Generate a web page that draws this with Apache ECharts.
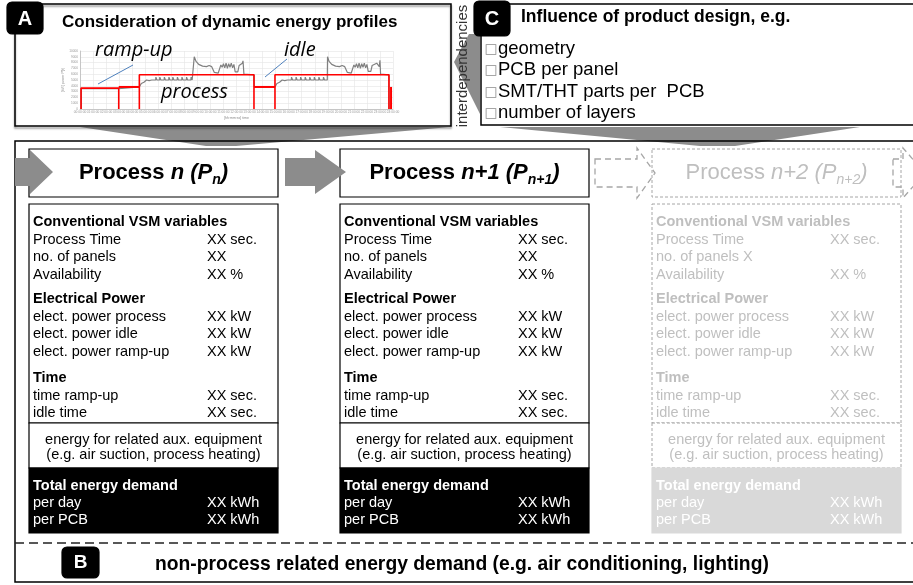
<!DOCTYPE html>
<html>
<head>
<meta charset="utf-8">
<script src="https://cdn.jsdelivr.net/npm/echarts@6/dist/echarts.min.js"></script>
<style>
html,body{margin:0;padding:0;background:#fff}
#main{width:913px;height:585px}
</style>
</head>
<body>
<div id="main"></div>
<script>
// energy profile (x: hours, y: power) in box A
const profile = [
  [0.1,0],[0.1,3.5],[1.5,3.5],[2.97,3.5],[3.0,3.8],[4.55,3.8],
  [4.7,4.4],[4.9,4.6],[5.1,5.0],[5.3,4.9],[5.5,5.0],
  [5.8,5.0],[5.82,5.5],[5.9,5.0],[6.1,5.0],[6.12,5.5],[6.2,5.0],[6.45,5.0],[6.47,5.5],[6.55,5.0],
  [6.8,5.0],[6.82,5.5],[6.9,5.0],[7.1,5.0],[7.12,5.5],[7.2,5.0],[7.45,5.0],[7.47,5.5],[7.55,5.0],
  [7.8,5.0],[7.82,5.5],[7.9,5.0],[8.15,5.0],[8.17,5.5],[8.25,5.0],[8.5,5.0],[8.52,5.5],[8.6,5.0],[8.74,5.0],
  [8.76,9.0],[8.9,8.2],[9.1,7.7],[9.4,7.4],[9.7,7.3],[9.9,7.5],[10.1,7.3],[10.25,7.4],[10.3,6.3],[10.6,6.2],[10.75,6.3],
  [10.8,7.6],[10.9,7.2],[11.0,7.8],[11.1,7.1],[11.2,7.9],[11.3,7.0],[11.4,7.8],[11.5,7.2],[11.6,7.9],[11.7,7.1],[11.8,7.7],
  [11.9,6.4],[12.1,6.4],[12.2,7.5],[12.3,7.2],[12.45,7.9],[12.5,8.3],[12.57,6.0],[13.34,5.9],[13.36,3.8],[14.95,3.8],
  [15.1,4.4],[15.3,4.6],[15.5,5.0],[15.7,4.9],[15.9,5.0],
  [16.2,5.0],[16.22,5.5],[16.3,5.0],[16.55,5.0],[16.57,5.5],[16.65,5.0],[16.9,5.0],[16.92,5.5],[17.0,5.0],
  [17.25,5.0],[17.27,5.5],[17.35,5.0],[17.6,5.0],[17.62,5.5],[17.7,5.0],[17.95,5.0],[17.97,5.5],[18.05,5.0],
  [18.3,5.0],[18.32,5.5],[18.4,5.0],[18.65,5.0],[18.67,5.5],[18.75,5.0],[18.96,5.0],
  [18.98,9.0],[19.1,8.2],[19.3,7.7],[19.6,7.4],[19.9,7.3],[20.1,7.5],[20.3,7.3],[20.45,7.4],[20.5,6.3],[20.8,6.2],[20.95,6.3],
  [21.0,7.6],[21.1,7.2],[21.2,7.8],[21.3,7.1],[21.4,7.9],[21.5,7.0],[21.6,7.8],[21.7,7.2],[21.8,7.9],[21.9,7.1],[22.0,7.7],
  [22.1,6.5],[22.3,6.5],[22.4,7.5],[22.55,7.2],[22.75,7.9],[22.95,7.3],[23.0,8.4],[23.05,6.0],[23.69,5.9],[23.7,0]
];
// red phase outlines
const rampBox1 = [[0.08,0],[0.08,3.6],[2.97,3.6],[2.97,0]];
const rampStep = [[2.97,3.8],[4.55,3.8]];
const processBox1 = [[4.55,0],[4.55,5.9],[13.34,5.9],[13.34,0]];
const idleStep = [[13.34,3.8],[14.95,3.8]];
const processBox2 = [[14.95,0],[14.95,5.9],[23.69,5.9],[23.69,0]];
const endStep = [[23.85,0],[23.85,3.8]];

const designItems = ['geometry', 'PCB per panel', 'SMT/THT parts per  PCB', 'number of layers'];
const processIndex = ['n', 'n+1', 'n+2'];
const vsmRows = [['Process Time','XX sec.'],['no. of panels','XX'],['Availability','XX %']];
const powerRows = [['elect. power process','XX kW'],['elect. power idle','XX kW'],['elect. power ramp-up','XX kW']];
const timeRows = [['time ramp-up','XX sec.'],['idle time','XX sec.']];
const ghostPanelsRow = ['no. of panels X',''];
const sectionTitles = ['Conventional VSM variables','Electrical Power','Time'];
const auxLines = ['energy for related aux. equipment','(e.g. air suction, process heating)'];
const totalTitle = 'Total energy demand';
const totalRows = [['per day','XX kWh'],['per PCB','XX kWh']];

const FONT = '"Liberation Sans", Arial, sans-serif';
const g = [];

function txt(x, y, text, st, z) {
  g.push({type:'text', x:x, y:y, z:z || 20, silent:true, style:Object.assign({
    text:text, fill:'#000', fontSize:14.5, fontFamily:FONT,
    align:'left', textAlign:'left', verticalAlign:'middle', textVerticalAlign:'middle'
  }, st || {})});
}
function box(x, y, w, h, st, z, r) {
  g.push({type:'rect', z:z || 5, silent:true, shape:{x:x, y:y, width:w, height:h, r:r || 0},
    style:Object.assign({fill:'#fff', stroke:'#000', lineWidth:1.2}, st || {})});
}
function poly(points, st, z) {
  g.push({type:'polygon', z:z || 6, silent:true, shape:{points:points},
    style:Object.assign({fill:'#8c8c8c'}, st || {})});
}
function seg(x1, y1, x2, y2, st, z) {
  g.push({type:'line', z:z || 8, silent:true, shape:{x1:x1, y1:y1, x2:x2, y2:y2},
    style:Object.assign({stroke:'#000', lineWidth:1}, st || {})});
}
function arrow(x0, xb, xt, yc, bh, hh) {
  return [[x0,yc-bh],[xb,yc-bh],[xb,yc-hh],[xt,yc],[xb,yc+hh],[xb,yc+bh],[x0,yc+bh]];
}

// wedges pointing down into the process area
poly([[80,127],[450,127],[236,146],[206,146]], {fill:'#8c8c8c'}, 1);
poly([[500,127],[860,127],[735,146],[700,146]], {fill:'#8c8c8c'}, 1);

// box A
box(15, 4, 436, 122, {fill:'none', lineWidth:1.5, shadowBlur:2, shadowOffsetY:2, shadowColor:'rgba(0,0,0,0.45)'}, 0);
box(7, 2, 36, 32, {fill:'#000', stroke:'#000'}, 10, 5);
txt(25, 19, 'A', {fill:'#fff', fontSize:20, fontWeight:'bold', align:'center', textAlign:'center'});
txt(62, 22, 'Consideration of dynamic energy profiles', {fontSize:17, fontWeight:'bold'});
const ann = {fontSize:20, fontStyle:'italic', fontFamily:'"Open Sans", "Liberation Sans", sans-serif'};
txt(95, 50, 'ramp-up', ann, 100);
txt(284, 50, 'idle', ann, 100);
txt(161, 92, 'process', ann, 100);
seg(98, 84, 133, 65, {stroke:'#4f81bd', lineWidth:1}, 100);
seg(265, 77, 287, 59, {stroke:'#4f81bd', lineWidth:1}, 100);

// interdependencies arrow
poly([[454,62],[469,34],[480,34],[480,114]], {fill:'#8c8c8c'}, 2);
g.push({type:'text', x:463, y:66, rotation:Math.PI/2, z:20, silent:true, style:{
  text:'interdependencies', fill:'#333', fontSize:15, fontFamily:FONT,
  align:'center', textAlign:'center', verticalAlign:'middle', textVerticalAlign:'middle'}});

// box C
box(481, 4, 440, 121, {lineWidth:1.5}, 3);
box(474, 1, 36, 35, {fill:'#000', stroke:'#000'}, 10, 5);
txt(492, 19, 'C', {fill:'#fff', fontSize:20, fontWeight:'bold', align:'center', textAlign:'center'});
txt(521, 17, 'Influence of product design, e.g.', {fontSize:17.5, fontWeight:'bold'});
designItems.forEach(function (item, i) {
  const y = 49 + i * 21.3;
  txt(484.5, y + 0.5, '\u25A1', {fontSize:13.5, fill:'#8c8c8c', fontFamily:'"DejaVu Sans", sans-serif'});
  txt(498, y, item, {fontSize:18.5});
});

// main frame
box(15, 141, 905, 441, {fill:'none', lineWidth:1.5}, 7);
seg(15, 543, 913, 543, {stroke:'#222', lineWidth:1.5, lineDash:[9,5]}, 8);
box(62, 547, 37, 31, {fill:'#000', stroke:'#000'}, 10, 5);
txt(80.5, 563, 'B', {fill:'#fff', fontSize:19, fontWeight:'bold', align:'center', textAlign:'center'});
txt(155, 565, 'non-process related energy demand (e.g. air conditioning, lighting)', {fontSize:19.3, fontWeight:'bold'});

// process columns
const colLeft = [29, 340, 652];
const colW = 249;
processIndex.forEach(function (idx, c) {
  const L = colLeft[c];
  const ghost = c === 2;
  const ink = ghost ? '#bfbfbf' : '#000';
  const edge = ghost ? {stroke:'#a6a6a6', lineWidth:1, lineDash:[3,2]} : {};
  const fw = ghost ? 'normal' : 'bold';
  box(L, 149, colW, 48, edge, 5);
  box(L, 204, colW, 219, edge, 5);
  box(L, 423, colW, 45, edge, 5);
  box(L, 468, colW, 65, {fill: ghost ? '#d9d9d9' : '#000', stroke: ghost ? '#d9d9d9' : '#000'}, 5);

  const base = {fill:ink, fontFamily:FONT, fontWeight:fw, fontSize:22, lineHeight:28, verticalAlign:'middle'};
  g.push({type:'text', x:L + colW / 2, y:173, z:20, silent:true, style:{
    text:'{m|Process }{i|' + idx + '}{m| }{i|(P}{s|' + idx + '}{i|)}',
    align:'center', textAlign:'center', verticalAlign:'middle', textVerticalAlign:'middle',
    rich:{
      m:Object.assign({}, base),
      i:Object.assign({}, base, {fontStyle:'italic'}),
      s:Object.assign({}, base, {fontStyle:'italic', fontSize:14, lineHeight:16, verticalAlign:'bottom'})
    }}});

  const tx = L + 4, vx = L + 178;
  const sections = [vsmRows, powerRows, timeRows];
  const starts = [222, 299, 378];
  sections.forEach(function (rows, s) {
    txt(tx, starts[s], sectionTitles[s], {fill:ink, fontWeight:'bold'});
    rows.forEach(function (row, r) {
      const rr = (ghost && s === 0 && r === 1) ? ghostPanelsRow : row;
      const y = starts[s] + 17.5 * (r + 1);
      txt(tx, y, rr[0], {fill:ink});
      if (rr[1]) txt(vx, y, rr[1], {fill:ink});
    });
  });
  auxLines.forEach(function (line, k) {
    txt(L + colW / 2, 440 + k * 15, line, {fill:ink, align:'center', textAlign:'center'});
  });
  const totInk = '#fff';
  txt(tx, 486, totalTitle, {fill:totInk, fontWeight:'bold'});
  totalRows.forEach(function (row, r) {
    txt(tx, 503 + r * 16.5, row[0], {fill:totInk});
    txt(vx, 503 + r * 16.5, row[1], {fill:totInk});
  });
});

// flow arrows
poly(arrow(15, 30, 53, 172, 14, 22), {fill:'#8c8c8c'}, 9);
poly(arrow(285, 315, 346, 172, 14, 22), {fill:'#8c8c8c'}, 9);
poly(arrow(595, 637, 655, 173, 14, 25), {fill:'none', stroke:'#a6a6a6', lineWidth:1.3, lineDash:[6,4]}, 9);
poly(arrow(893, 903, 925, 173, 14, 25), {fill:'none', stroke:'#a6a6a6', lineWidth:1.3, lineDash:[6,4]}, 9);

function redLine(data, w) {
  return {type:'line', data:data, showSymbol:false, silent:true, animation:false, z:3,
    lineStyle:{color:'#ff0000', width:w || 1.6}};
}

const chart = echarts.init(document.getElementById('main'), null, {renderer:'canvas'});
chart.setOption({
  animation:false,
  backgroundColor:'#fff',
  grid:{left:80, top:51, width:313, height:58, containLabel:false},
  xAxis:{
    type:'value', min:0, max:24, interval:1,
    name:'[hh:mm:ss] time', nameLocation:'middle', nameGap:7,
    nameTextStyle:{fontSize:3.5, color:'#888'},
    axisLine:{show:true, lineStyle:{color:'#bbb', width:0.8}},
    axisTick:{show:false},
    axisLabel:{fontSize:3.2, color:'#999', margin:2,
      formatter:function (v) { return (v < 10 ? '0' : '') + v + ':00:00'; }},
    splitLine:{show:true, lineStyle:{color:'#e4e4e4', width:0.6}}
  },
  yAxis:{
    type:'value', min:0, max:10, interval:1,
    name:'[kW] power P(t)', nameLocation:'middle', nameGap:13, nameRotate:90,
    nameTextStyle:{fontSize:3.5, color:'#888'},
    axisLine:{show:true, lineStyle:{color:'#bbb', width:0.8}},
    axisTick:{show:false},
    axisLabel:{fontSize:3.2, color:'#999', margin:2,
      formatter:function (v) { return String(v * 1000); }},
    splitLine:{show:true, lineStyle:{color:'#e4e4e4', width:0.6}}
  },
  series:[
    {type:'line', data:profile, showSymbol:false, silent:true, animation:false, z:2,
      lineStyle:{color:'#808080', width:1.2}},
    redLine(rampBox1), redLine(rampStep, 2), redLine(processBox1),
    redLine(idleStep, 2), redLine(processBox2), redLine(endStep, 2)
  ],
  graphic:{elements:g}
});
</script>
</body>
</html>
